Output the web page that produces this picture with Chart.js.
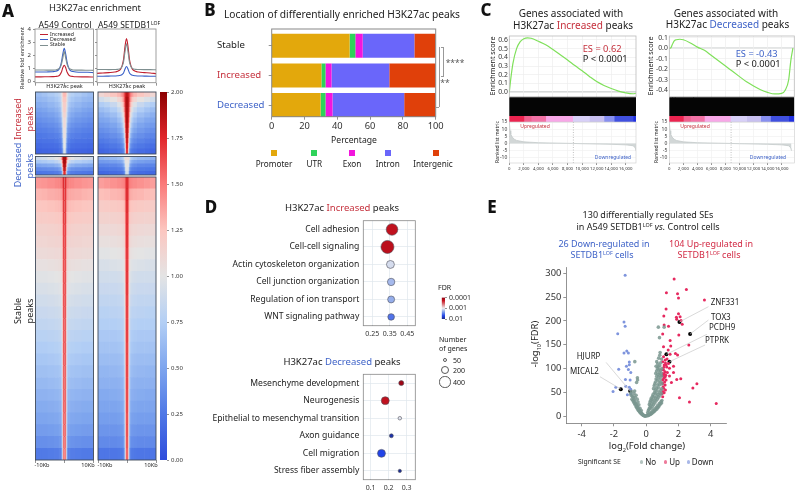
<!DOCTYPE html>
<html>
<head>
<meta charset="utf-8">
<title>H3K27ac figure</title>
<script src="https://cdn.jsdelivr.net/npm/chart.js@4"></script>
<style>
  html, body { margin: 0; padding: 0; background: #fff; }
  #page { position: relative; width: 799px; height: 490px; overflow: hidden; background: #fff; }
  #page canvas { position: absolute; left: 0; top: 0; }
  .t { position: absolute; white-space: nowrap; line-height: 1; color: #222; z-index: 5; }
  .t sup { font-size: .6em; line-height: 0; vertical-align: .55em; }
  .box { position: absolute; z-index: 4; }
</style>
</head>
<body>
<div id="page"></div>
<script>
// ---- panel A, profile lines
const profileKb = [-10, -8, -6, -4, -3, -2, -1.5, -1, -0.5, 0, 0.5, 1, 1.5, 2, 3, 4, 6, 8, 10];
const ctrlStable = [0.88, 0.88, 0.87, 0.87, 0.88, 0.95, 1.05, 1.3, 1.8, 2.3, 1.8, 1.3, 1.05, 0.95, 0.88, 0.87, 0.87, 0.86, 0.85];
const ctrlDecreased = [0.72, 0.72, 0.73, 0.75, 0.78, 0.88, 1.05, 1.45, 2.1, 2.55, 2.1, 1.45, 1.05, 0.85, 0.76, 0.72, 0.7, 0.7, 0.68];
const ctrlIncreased = [0.35, 0.35, 0.36, 0.37, 0.38, 0.42, 0.5, 0.7, 1.05, 1.25, 1.05, 0.7, 0.5, 0.42, 0.38, 0.36, 0.35, 0.35, 0.34];
const lofStable = [0.92, 0.92, 0.91, 0.92, 0.93, 1, 1.15, 1.5, 2.3, 2.9, 2.3, 1.5, 1.15, 1, 0.93, 0.92, 0.91, 0.91, 0.9];
const lofIncreased = [0.62, 0.65, 0.68, 0.72, 0.78, 0.95, 1.2, 1.7, 2.7, 3.3, 2.7, 1.7, 1.2, 0.95, 0.78, 0.72, 0.68, 0.65, 0.6];
const lofDecreased = [0.4, 0.4, 0.41, 0.42, 0.43, 0.47, 0.53, 0.65, 0.95, 1.15, 0.95, 0.65, 0.53, 0.47, 0.43, 0.42, 0.41, 0.4, 0.4];
const profileTicks = [0, 1, 2, 3, 4];
const heatTicks = [0, 0.25, 0.5, 0.75, 1, 1.25, 1.5, 1.75, 2];

// ---- panel A, heatmaps: distance from peak centre (Kb) and one row per band, centre -> outer
const heatBinsKb = [0, 0.5, 0.75, 1, 1.3, 1.7, 2.3, 3.5, 6, 8, 10];
const heatIncCtrl = [
  [1.3, 1.25, 1.1, 0.95, 0.85, 0.8, 0.76, 0.72, 0.68, 0.64],
  [1.25, 1.2, 1.05, 0.9, 0.8, 0.74, 0.7, 0.66, 0.62, 0.6],
  [1.2, 1.15, 1, 0.85, 0.74, 0.68, 0.64, 0.6, 0.56, 0.54],
  [1.2, 1.1, 0.95, 0.8, 0.68, 0.62, 0.58, 0.54, 0.5, 0.48],
  [1.15, 1.05, 0.9, 0.72, 0.62, 0.56, 0.52, 0.48, 0.45, 0.43],
  [1.1, 1, 0.82, 0.64, 0.55, 0.5, 0.46, 0.42, 0.4, 0.38],
  [1.1, 0.98, 0.74, 0.56, 0.48, 0.44, 0.4, 0.37, 0.35, 0.33],
  [1.05, 0.95, 0.66, 0.48, 0.42, 0.38, 0.35, 0.32, 0.3, 0.29],
  [1.05, 0.9, 0.58, 0.42, 0.36, 0.32, 0.3, 0.28, 0.26, 0.25],
  [1, 0.82, 0.48, 0.36, 0.3, 0.27, 0.25, 0.23, 0.22, 0.21],
  [1, 0.72, 0.4, 0.3, 0.25, 0.22, 0.2, 0.19, 0.18, 0.17],
  [0.95, 0.6, 0.32, 0.24, 0.2, 0.18, 0.16, 0.15, 0.14, 0.13]
];
const heatIncLof = [
  [1.85, 1.8, 1.7, 1.55, 1.45, 1.38, 1.3, 1.25, 1.18, 1.12],
  [1.9, 1.85, 1.7, 1.5, 1.35, 1.22, 1.12, 1.02, 0.95, 0.9],
  [1.9, 1.85, 1.65, 1.42, 1.22, 1.08, 0.96, 0.85, 0.78, 0.74],
  [1.9, 1.82, 1.6, 1.32, 1.1, 0.95, 0.84, 0.74, 0.68, 0.64],
  [1.9, 1.8, 1.52, 1.2, 0.98, 0.84, 0.74, 0.65, 0.6, 0.56],
  [1.9, 1.75, 1.42, 1.08, 0.88, 0.74, 0.65, 0.57, 0.52, 0.5],
  [1.88, 1.7, 1.3, 0.98, 0.78, 0.65, 0.57, 0.5, 0.46, 0.44],
  [1.85, 1.62, 1.15, 0.86, 0.68, 0.57, 0.5, 0.44, 0.4, 0.38],
  [1.85, 1.5, 1.02, 0.74, 0.58, 0.48, 0.42, 0.38, 0.34, 0.32],
  [1.8, 1.35, 0.9, 0.62, 0.48, 0.4, 0.35, 0.31, 0.28, 0.26],
  [1.75, 1.2, 0.76, 0.5, 0.38, 0.32, 0.28, 0.25, 0.22, 0.2],
  [1.7, 1.05, 0.6, 0.38, 0.3, 0.25, 0.22, 0.19, 0.17, 0.15]
];
const heatDecCtrl = [
  [1.95, 1.85, 1.6, 1.35, 1.15, 1.05, 1, 0.95, 0.9, 0.88],
  [1.95, 1.8, 1.4, 1.1, 0.95, 0.85, 0.8, 0.75, 0.72, 0.7],
  [1.9, 1.7, 1.15, 0.85, 0.7, 0.62, 0.58, 0.54, 0.52, 0.5],
  [1.85, 1.5, 0.9, 0.62, 0.5, 0.44, 0.4, 0.38, 0.36, 0.35],
  [1.75, 1.25, 0.65, 0.42, 0.34, 0.3, 0.28, 0.26, 0.25, 0.24]
];
const heatDecLof = [
  [1.05, 1.1, 1, 0.85, 0.75, 0.7, 0.66, 0.62, 0.6, 0.58],
  [1, 1.05, 0.9, 0.72, 0.6, 0.54, 0.5, 0.47, 0.45, 0.44],
  [0.98, 0.98, 0.75, 0.55, 0.46, 0.4, 0.37, 0.34, 0.33, 0.32],
  [0.95, 0.9, 0.58, 0.42, 0.34, 0.3, 0.28, 0.26, 0.25, 0.24],
  [0.9, 0.78, 0.42, 0.3, 0.24, 0.21, 0.2, 0.18, 0.17, 0.16]
];
const heatStableCtrl = [
  [1.78, 1.66, 1.52, 1.5, 1.48, 1.46, 1.45, 1.43, 1.41, 1.4],
  [1.76, 1.6, 1.42, 1.38, 1.36, 1.35, 1.34, 1.33, 1.31, 1.3],
  [1.76, 1.56, 1.35, 1.31, 1.29, 1.28, 1.27, 1.26, 1.25, 1.24],
  [1.76, 1.54, 1.3, 1.26, 1.24, 1.23, 1.22, 1.21, 1.2, 1.2],
  [1.74, 1.52, 1.26, 1.21, 1.19, 1.18, 1.17, 1.16, 1.15, 1.15],
  [1.74, 1.5, 1.22, 1.17, 1.15, 1.14, 1.14, 1.13, 1.12, 1.12],
  [1.74, 1.48, 1.19, 1.13, 1.11, 1.1, 1.1, 1.09, 1.08, 1.08],
  [1.72, 1.46, 1.15, 1.09, 1.07, 1.06, 1.05, 1.04, 1.03, 1.03],
  [1.72, 1.44, 1.12, 1.05, 1.02, 1.01, 1, 0.99, 0.98, 0.98],
  [1.72, 1.42, 1.09, 1.01, 0.98, 0.97, 0.96, 0.95, 0.94, 0.94],
  [1.72, 1.41, 1.06, 0.97, 0.94, 0.93, 0.92, 0.91, 0.9, 0.9],
  [1.72, 1.4, 1.03, 0.93, 0.9, 0.89, 0.88, 0.87, 0.86, 0.86],
  [1.7, 1.39, 1, 0.9, 0.86, 0.85, 0.84, 0.83, 0.82, 0.82],
  [1.7, 1.38, 0.98, 0.87, 0.82, 0.81, 0.8, 0.79, 0.78, 0.78],
  [1.7, 1.38, 0.96, 0.83, 0.78, 0.77, 0.76, 0.75, 0.74, 0.74],
  [1.7, 1.36, 0.94, 0.8, 0.74, 0.73, 0.72, 0.71, 0.7, 0.7],
  [1.68, 1.35, 0.91, 0.76, 0.7, 0.69, 0.68, 0.67, 0.66, 0.66],
  [1.68, 1.34, 0.89, 0.73, 0.66, 0.65, 0.64, 0.63, 0.62, 0.62],
  [1.68, 1.33, 0.87, 0.69, 0.62, 0.61, 0.6, 0.59, 0.58, 0.58],
  [1.68, 1.32, 0.85, 0.66, 0.58, 0.57, 0.56, 0.55, 0.54, 0.54],
  [1.66, 1.3, 0.82, 0.62, 0.54, 0.53, 0.52, 0.51, 0.5, 0.5],
  [1.66, 1.28, 0.8, 0.58, 0.49, 0.48, 0.47, 0.46, 0.45, 0.45],
  [1.64, 1.25, 0.76, 0.52, 0.42, 0.41, 0.4, 0.39, 0.38, 0.38],
  [1.6, 1.2, 0.7, 0.4, 0.3, 0.29, 0.28, 0.27, 0.26, 0.26]
];
const heatStableLof = [
  [1.76, 1.64, 1.5, 1.48, 1.46, 1.45, 1.44, 1.42, 1.4, 1.38],
  [1.76, 1.6, 1.4, 1.35, 1.33, 1.32, 1.31, 1.3, 1.28, 1.27],
  [1.76, 1.56, 1.32, 1.27, 1.25, 1.24, 1.23, 1.22, 1.21, 1.2],
  [1.74, 1.54, 1.27, 1.21, 1.19, 1.18, 1.17, 1.16, 1.15, 1.15],
  [1.74, 1.52, 1.22, 1.16, 1.13, 1.12, 1.11, 1.1, 1.09, 1.09],
  [1.74, 1.5, 1.18, 1.11, 1.08, 1.07, 1.06, 1.05, 1.04, 1.04],
  [1.72, 1.48, 1.14, 1.06, 1.03, 1.02, 1.01, 1, 0.99, 0.99],
  [1.72, 1.46, 1.1, 1.02, 0.98, 0.97, 0.96, 0.95, 0.94, 0.94],
  [1.72, 1.44, 1.06, 0.98, 0.94, 0.92, 0.91, 0.9, 0.9, 0.9],
  [1.72, 1.42, 1.03, 0.94, 0.9, 0.88, 0.87, 0.86, 0.86, 0.86],
  [1.7, 1.4, 1.01, 0.91, 0.86, 0.84, 0.83, 0.82, 0.82, 0.82],
  [1.7, 1.38, 0.99, 0.87, 0.82, 0.8, 0.8, 0.79, 0.78, 0.78],
  [1.7, 1.38, 0.97, 0.84, 0.79, 0.77, 0.76, 0.75, 0.75, 0.75],
  [1.7, 1.36, 0.95, 0.81, 0.75, 0.73, 0.72, 0.71, 0.71, 0.71],
  [1.68, 1.35, 0.92, 0.78, 0.72, 0.7, 0.69, 0.68, 0.68, 0.68],
  [1.68, 1.34, 0.9, 0.75, 0.68, 0.66, 0.65, 0.64, 0.64, 0.64],
  [1.68, 1.33, 0.88, 0.72, 0.65, 0.63, 0.62, 0.61, 0.6, 0.6],
  [1.68, 1.32, 0.86, 0.69, 0.61, 0.59, 0.58, 0.57, 0.57, 0.57],
  [1.66, 1.3, 0.84, 0.66, 0.58, 0.56, 0.55, 0.54, 0.53, 0.53],
  [1.66, 1.28, 0.82, 0.62, 0.54, 0.52, 0.51, 0.5, 0.5, 0.5],
  [1.64, 1.26, 0.8, 0.58, 0.5, 0.48, 0.47, 0.46, 0.46, 0.46],
  [1.64, 1.24, 0.76, 0.54, 0.45, 0.43, 0.42, 0.41, 0.41, 0.41],
  [1.62, 1.2, 0.72, 0.48, 0.39, 0.37, 0.36, 0.35, 0.35, 0.35],
  [1.58, 1.15, 0.66, 0.38, 0.28, 0.26, 0.25, 0.24, 0.24, 0.24]
];

// ---- panel B
const locationGroups = ['Stable', 'Increased', 'Decreased'];
const locationTypes = ['Promoter', 'UTR', 'Exon', 'Intron', 'Intergenic'];
const promoterPct = [47.5, 30.3, 29.8];
const utrPct = [3.5, 2.5, 3];
const exonPct = [4.5, 3.7, 4.3];
const intronPct = [31.5, 35.2, 43.7];
const intergenicPct = [13, 28.3, 19.2];
const percentTicks = [0, 20, 40, 60, 80, 100];

// ---- panel C
const esRankInc = [0, 200, 500, 1000, 1500, 2000, 2500, 3000, 4000, 5000, 6000, 7000, 8000, 9000, 10000, 11000, 12000, 13000, 14000, 15000, 16000, 17000, 17400];
const esInc = [0, 0.15, 0.33, 0.5, 0.58, 0.615, 0.625, 0.62, 0.585, 0.545, 0.49, 0.43, 0.37, 0.305, 0.245, 0.18, 0.12, 0.075, 0.04, 0.01, -0.01, -0.02, -0.015];
const esRankDec = [0, 200, 400, 700, 1000, 1500, 2000, 3000, 4000, 5000, 6000, 7000, 8000, 9000, 10000, 11000, 12000, 13000, 14000, 15000, 16000, 16500, 17000, 17300, 17600];
const esDec = [0, 0.002, 0.03, 0.07, 0.08, 0.085, 0.08, 0.05, 0.01, -0.02, -0.07, -0.12, -0.17, -0.22, -0.27, -0.32, -0.36, -0.395, -0.42, -0.435, -0.43, -0.4, -0.3, -0.12, 0];
const esTicksInc = [0, 0.1, 0.2, 0.3, 0.4, 0.5, 0.6];
const esTicksDec = [-0.4, -0.3, -0.2, -0.1, 0, 0.1];
const rankTicks = [0, 2000, 4000, 6000, 8000, 10000, 12000, 14000, 16000];
const metricTicks = [-10, -5, 0, 5, 10, 15];
const metricRank = [0, 100, 200, 400, 700, 1000, 2000, 4000, 8700, 10000, 14000, 16000, 17000, 17300, 17400];
const metricValue = [15, 9, 6.5, 4.5, 3, 2.2, 1.2, 0.6, 0.1, -0.1, -0.5, -0.9, -1.5, -3, -5];
const stripEdges = [0, 2000, 3000, 5000, 8700, 11000, 13000, 14400, 17000];
const stripColors = ['#ec2450', '#f0608e', '#f272a6', '#f8a8e8', '#d8d0f8', '#c8c0f0', '#8890f0', '#4050e0', '#2030e0'];
const barcodeDecHits = [430, 812, 3420];

// ---- panel D
const termsInc = ['Cell adhesion', 'Cell-cell signaling', 'Actin cytoskeleton organization', 'Cell junction organization', 'Regulation of ion transport', 'WNT signaling pathway'];
const ratioInc = [0.363, 0.337, 0.354, 0.358, 0.358, 0.358];
const genesInc = [430, 540, 200, 175, 155, 140];
const fdrInc = [0.00018, 0.00017, 0.0012, 0.0017, 0.0019, 0.0033];
const ratioTicksInc = [0.25, 0.35, 0.45];
const termsDec = ['Mesenchyme development', 'Neurogenesis', 'Epithelial to mesenchymal transition', 'Axon guidance', 'Cell migration', 'Stress fiber assembly'];
const ratioDec = [0.27, 0.181, 0.262, 0.215, 0.16, 0.262];
const genesDec = [80, 200, 40, 50, 200, 35];
const fdrDec = [0.00012, 0.00018, 0.0011, 0.008, 0.005, 0.0095];
const ratioTicksDec = [0.1, 0.2, 0.3];
const fdrTicks = [0.0001, 0.001, 0.01];
const geneLegend = [50, 200, 400];

// ---- panel E, [log2 fold change, -log10 FDR]
const volcanoDown = [[-1.3, 296], [-1.37, 198], [-1.3, 189], [-1.76, 173], [-1.37, 133], [-1.2, 137], [-1.1, 133], [-1.04, 114], [-1.04, 108], [-1.22, 105], [-1.7, 98.6], [-1.1, 98], [-0.95, 92], [-1.28, 77], [-0.99, 76], [-1.88, 61], [-2.05, 52], [-1.26, 63], [-1.04, 61], [-0.95, 56.6], [-1.16, 45], [-0.95, 47]];
const volcanoUp = [[1.74, 288], [2.5, 266], [1.26, 259], [1.95, 257], [2.01, 248], [3.62, 244], [1.24, 225], [2.01, 215], [1.1, 210.5], [1.88, 208], [2.11, 209], [1.9, 203.4], [2.17, 201], [1.12, 191.5], [1.39, 188.7], [2.24, 193], [1.03, 172.6], [2.03, 170.5], [1.49, 159], [1.08, 146], [1.53, 147.5], [2.65, 149.6], [1.37, 139], [1.82, 132], [1.95, 128.6], [1.49, 130], [1.08, 125], [1.18, 118], [1.03, 114.6], [1.39, 111], [1.24, 107.6], [1.7, 105], [1.12, 107.6], [1.28, 103.4], [1.45, 100.6], [1.08, 97], [1.18, 93.6], [1.32, 92], [1.7, 92], [1.03, 85], [1.18, 83], [1.45, 84.5], [1.03, 76], [1.24, 76], [1.9, 77], [2.15, 79], [3.15, 68.5], [2.9, 59.4], [1.57, 71], [1.03, 69], [1.18, 65.7], [1.08, 58.7], [1, 48], [1.12, 49.6], [1.03, 41], [2.07, 39], [2.69, 30], [4.35, 27], [1.05, 90], [1.1, 80], [1.15, 72], [1.06, 62], [1.2, 55], [1.1, 103], [1.2, 112], [1.3, 120], [1.05, 52], [1.14, 88], [1.02, 98], [1.22, 86]];
const volcanoNo = [[-0.95, 48], [-0.9, 52], [-0.92, 44], [-0.85, 42], [-0.88, 36], [-0.8, 40], [-0.82, 33], [-0.78, 30], [-0.75, 35], [-0.72, 27], [-0.7, 32], [-0.68, 24], [-0.65, 28], [-0.62, 20], [-0.6, 25], [-0.58, 18], [-0.55, 21], [-0.52, 15], [-0.5, 18], [-0.48, 12], [-0.45, 14], [-0.42, 10], [-0.4, 12], [-0.38, 8], [-0.35, 9], [-0.32, 6], [-0.3, 7.5], [-0.28, 5], [-0.25, 5], [-0.22, 3], [-0.2, 3.5], [-0.17, 2], [-0.14, 1.5], [-0.1, 1], [-0.07, 0.5], [-0.04, 0.2], [-0.7, 114.6], [-0.54, 81], [-0.59, 71], [-0.53, 76], [-0.71, 53], [-0.75, 48], [-0.62, 44], [-0.68, 40], [-0.55, 36], [-0.5, 30], [-0.45, 24], [-0.38, 17], [-0.3, 12],
  [0.03, 1], [0.06, 2], [0.1, 1], [0.13, 4], [0.16, 2], [0.2, 3], [0.23, 7], [0.26, 4], [0.3, 5], [0.33, 9], [0.36, 6], [0.4, 8], [0.43, 12], [0.46, 9], [0.5, 10], [0.53, 15], [0.56, 12], [0.6, 14], [0.63, 19], [0.66, 15], [0.7, 18], [0.73, 23], [0.76, 19], [0.8, 22], [0.83, 27], [0.86, 24], [0.9, 27], [0.93, 31], [0.96, 28], [0.98, 33],
  [0.1, 8], [0.14, 12], [0.18, 15], [0.22, 18], [0.26, 22], [0.3, 17], [0.34, 26], [0.38, 20], [0.42, 30], [0.46, 24], [0.5, 34], [0.54, 28], [0.58, 38], [0.62, 32], [0.66, 42], [0.7, 36], [0.74, 46], [0.78, 40], [0.82, 50], [0.86, 44], [0.9, 54], [0.94, 48], [0.97, 58],
  [0.2, 25], [0.24, 30], [0.28, 33], [0.32, 38], [0.36, 35], [0.4, 42], [0.44, 46], [0.48, 41], [0.52, 50], [0.56, 55], [0.6, 48], [0.64, 60], [0.68, 54], [0.72, 66], [0.76, 60], [0.8, 72], [0.84, 66], [0.88, 78], [0.92, 72], [0.96, 84], [0.98, 68],
  [0.46, 58], [0.5, 64], [0.54, 68], [0.58, 72], [0.62, 78], [0.66, 84], [0.7, 76], [0.74, 88], [0.78, 82], [0.82, 92], [0.86, 86], [0.9, 96], [0.94, 90], [0.97, 100], [0.6, 90], [0.65, 95], [0.7, 100], [0.75, 104], [0.8, 98], [0.85, 106], [0.9, 112], [0.62, 105], [0.66, 114.6], [0.76, 187], [0.83, 165], [0.87, 134], [0.95, 120], [0.78, 122], [0.85, 128], [0.72, 110], [1.12, 187]];
const volcanoGenes = [[2.07, 198], [2.73, 172.6], [1.26, 130], [1.45, 114.6], [-0.99, 53], [-1.57, 57]];
const volcanoLeaders = [[2.07, 198], [3.87, 230], null, [2.73, 172.6], [3.87, 202], null, [1.26, 130], [3.77, 172], null, [1.45, 114.6], [3.66, 149.6], null, [-0.99, 53], [-2.48, 113], null, [-1.57, 57], [-2.86, 83]];
const foldTicks = [-4, -2, 0, 2, 4];
const fdrAxisTicks = [0, 50, 100, 150, 200, 250, 300];

// ---- colours and helpers
const FONT = '"Noto Sans", sans-serif';
const RED = '#c5303c';
const BLUE = '#3f63c8';
const locationColors = ['#e3a80c', '#2fd35a', '#f215dd', '#6a66fa', '#e0400a'];
const heatStops = [[0, '#2e4cdc'], [0.25, '#4f78e6'], [0.5, '#7ea5ee'], [0.75, '#b3cff5'], [1, '#e4e4e4'], [1.25, '#fcc6c0'], [1.5, '#fa7a7a'], [1.75, '#e1262b'], [2, '#8b0000']];
const fdrStops = [[-4, '#8f0010'], [-3.7, '#c81420'], [-3, '#eeeeee'], [-2.6, '#6f92ea'], [-2.3, '#2244e8'], [-2, '#1a2a8a']];

const page = document.getElementById('page');
Chart.defaults.font.family = FONT;
Chart.defaults.animation = false;
Chart.defaults.responsive = false;
Chart.defaults.plugins.legend.display = false;
Chart.defaults.plugins.tooltip.enabled = false;

Chart.register({
  id: 'frame',
  afterDatasetsDraw(chart, args, opts) {
    if (!opts.color) return;
    const a = chart.chartArea, c = chart.ctx;
    c.save();
    c.strokeStyle = opts.color;
    c.lineWidth = opts.width || 1;
    c.strokeRect(a.left, a.top, a.right - a.left, a.bottom - a.top);
    c.restore();
  }
});

function mixColor(stops, v) {
  if (v <= stops[0][0]) return stops[0][1];
  for (let i = 1; i < stops.length; i++) {
    if (v <= stops[i][0]) {
      const f = (v - stops[i - 1][0]) / (stops[i][0] - stops[i - 1][0]);
      const a = stops[i - 1][1], b = stops[i][1];
      const ch = k => {
        const p = parseInt(a.substr(k, 2), 16), q = parseInt(b.substr(k, 2), 16);
        return Math.round(p + (q - p) * f);
      };
      return 'rgb(' + ch(1) + ',' + ch(3) + ',' + ch(5) + ')';
    }
  }
  return stops[stops.length - 1][1];
}

function axis(min, max, tickVals, o) {
  o = o || {};
  return Object.assign({
    type: 'linear', min: min, max: max,
    afterBuildTicks: s => { s.ticks = tickVals.map(v => ({ value: v })); },
    border: { display: false },
    grid: { display: o.grid !== false || o.tick > 0, drawOnChartArea: o.grid !== false, color: o.gridColor || '#e8e8e8', lineWidth: o.gridWidth || 0.7, tickLength: o.tick === undefined ? 3 : o.tick, tickColor: o.tickColor || '#666', tickWidth: 0.7 },
    ticks: { display: o.labels !== false, autoSkip: false, maxRotation: 0, minRotation: 0, padding: o.pad === undefined ? 2 : o.pad, color: o.color || '#333', font: { size: o.size || 6 }, callback: o.fmt || (v => String(v)) }
  }, o.extra || {});
}

function hidden(extra) {
  return Object.assign({ display: false }, extra || {});
}

// rect is the exact plot rectangle in page pixels; axes take the whole margin up to the canvas edge
function place(rect, config) {
  const cv = document.createElement('canvas');
  cv.width = 799;
  cv.height = 490;
  page.appendChild(cv);
  config.options = config.options || {};
  const sc = config.options.scales;
  Object.keys(sc).forEach(k => {
    const shown = sc[k].display !== false;
    sc[k].afterFit = s => {
      if (s.isHorizontal()) s.height = shown ? 490 - rect[3] : 0;
      else s.width = !shown ? 0 : s.options.position === 'right' ? 799 - rect[2] : rect[0];
    };
  });
  const yOn = sc.y.display !== false, xOn = sc.x.display !== false, yRight = sc.y.position === 'right';
  config.options.layout = { padding: {
    left: yOn && !yRight ? 0 : rect[0],
    right: yOn && yRight ? 0 : 799 - rect[2],
    top: rect[1],
    bottom: xOn ? 0 : 490 - rect[3]
  } };
  return new Chart(cv, config);
}

function T(x, y, html, o) {
  o = o || {};
  const d = document.createElement('div');
  d.className = 't';
  d.innerHTML = html;
  d.style.left = x + 'px';
  d.style.top = y + 'px';
  d.style.fontFamily = FONT;
  d.style.fontSize = (o.size || 9) + 'px';
  if (o.color) d.style.color = o.color;
  if (o.weight) d.style.fontWeight = o.weight;
  const ax = o.align === 'l' ? '0' : o.align === 'r' ? '-100%' : '-50%';
  d.style.transform = 'translate(' + ax + ',-50%)' + (o.rot ? ' rotate(' + o.rot + 'deg)' : '');
  page.appendChild(d);
  return d;
}

function box(x, y, w, h, css) {
  const d = document.createElement('div');
  d.className = 'box';
  d.style.cssText = 'left:' + x + 'px;top:' + y + 'px;width:' + w + 'px;height:' + h + 'px;' + (css || '');
  page.appendChild(d);
}

function pairs(xs, ys) {
  return xs.map((x, i) => ({ x: x, y: ys[i] }));
}

function xy(list) {
  return list.map(p => p ? { x: p[0], y: p[1] } : { x: NaN, y: NaN });
}

// ---- panel A
function profileChart(rect, series, showLabels) {
  place(rect, {
    type: 'scatter',
    data: {
      datasets: series.map(s => ({
        data: pairs(profileKb, s[0]), showLine: true, pointRadius: 0, borderColor: s[1], borderWidth: 1.1, cubicInterpolationMode: 'monotone'
      }))
    },
    options: {
      scales: {
        x: axis(-10, 10, [-10, 0, 10], { grid: false, labels: false, tick: 3 }),
        y: axis(-0.1, 4.04, profileTicks, { grid: false, labels: showLabels, size: 6, pad: 2, tick: 2 })
      },
      plugins: { frame: { color: '#888', width: 0.8 } }
    }
  });
}
profileChart([35, 29, 93.5, 82.7], [[ctrlStable, '#7f8f90'], [ctrlIncreased, '#c02030'], [ctrlDecreased, '#3a60c8']], true);
profileChart([97, 29, 156, 82.7], [[lofStable, '#7f8f90'], [lofIncreased, '#c02030'], [lofDecreased, '#3a60c8']], false);

function heatChart(rect, rows, bottomTicks) {
  const datasets = [];
  // outer bins first so the centre bins stay on top of their neighbours
  for (let c = heatBinsKb.length - 2; c >= 0; c--) {
    const colors = rows.map(r => mixColor(heatStops, r[c]));
    const common = { backgroundColor: colors, borderWidth: 0, inflateAmount: 0.3, barPercentage: 1, categoryPercentage: 1 };
    datasets.push(Object.assign({ data: rows.map(() => [heatBinsKb[c], heatBinsKb[c + 1]]) }, common));
    datasets.push(Object.assign({ data: rows.map(() => [-heatBinsKb[c + 1], -heatBinsKb[c]]) }, common));
  }
  place(rect, {
    type: 'bar',
    data: { labels: rows.map((r, i) => i), datasets: datasets },
    options: {
      indexAxis: 'y',
      grouped: false,
      scales: {
        x: bottomTicks ? axis(-10, 10, [-10, 0, 10], { grid: false, labels: false, tick: 3 }) : hidden({ type: 'linear', min: -10, max: 10 }),
        y: hidden({ type: 'category' })
      },
      plugins: { frame: { color: '#3f4a5a', width: 0.9 } }
    }
  });
}
heatChart([35.5, 92, 93.5, 154], heatIncCtrl);
heatChart([98, 92, 156, 154], heatIncLof);
heatChart([35.5, 156.5, 93.5, 175], heatDecCtrl);
heatChart([98, 156.5, 156, 175], heatDecLof);
heatChart([35.5, 177, 93.5, 460], heatStableCtrl, true);
heatChart([98, 177, 156, 460], heatStableLof, true);

function colorBar(rect, min, max, stops, tickVals, fmt, size, reverse) {
  place(rect, {
    type: 'bar',
    data: {
      labels: [''],
      datasets: [{
        data: [[min, max]], barPercentage: 1, categoryPercentage: 1, borderWidth: 0,
        backgroundColor: ctx => {
          const s = ctx.chart.scales.y;
          if (!s || !ctx.chart.chartArea) return '#888';
          const g = ctx.chart.ctx.createLinearGradient(0, s.getPixelForValue(min), 0, s.getPixelForValue(max));
          stops.forEach(p => g.addColorStop((p[0] - min) / (max - min), p[1]));
          return g;
        }
      }]
    },
    options: {
      scales: {
        x: hidden({ type: 'category' }),
        y: axis(min, max, tickVals, { grid: false, tick: 2, size: size, pad: 2, fmt: fmt, extra: { position: 'right', reverse: !!reverse } })
      }
    }
  });
}
colorBar([160, 92, 167, 460], 0, 2, heatStops, heatTicks, v => v.toFixed(2), 6);

// ---- panel B: the bars on their own rows, then frame and axes above them
place([271.7, 30.85, 435.7, 119.95], {
  type: 'bar',
  data: {
    labels: locationGroups,
    datasets: [promoterPct, utrPct, exonPct, intronPct, intergenicPct].map((vals, i) => ({
      label: locationTypes[i], data: vals, backgroundColor: locationColors[i], borderWidth: 0, barPercentage: 0.808, categoryPercentage: 1
    }))
  },
  options: {
    indexAxis: 'y',
    scales: {
      x: hidden({ type: 'linear', min: 0, max: 100, stacked: true }),
      y: hidden({ type: 'category', stacked: true })
    }
  }
});
place([271.7, 29, 435.7, 116.7], {
  type: 'scatter',
  data: { datasets: [] },
  options: {
    scales: {
      x: axis(0, 100, percentTicks, { grid: false, size: 9.3, tick: 3, pad: 1 }),
      y: axis(-0.562, 2.394, [0, 1, 2], { grid: false, labels: false, tick: 3, extra: { reverse: true } })
    },
    plugins: { frame: { color: '#888', width: 1 } }
  }
});

// ---- panel C
function gseaPanel(x0, x1, xMax, rank, es, yMin, yMax, esTicks, hits) {
  // zero line of the score, under the curve
  place([x0, 36, x1, 96.7], {
    type: 'scatter',
    data: { datasets: [{ data: [{ x: 0, y: 0 }, { x: xMax, y: 0 }], showLine: true, pointRadius: 0, borderColor: '#c8cccc', borderWidth: 1.3 }] },
    options: { scales: { x: hidden({ type: 'linear', min: 0, max: xMax }), y: hidden({ type: 'linear', min: yMin, max: yMax }) } }
  });

  // running enrichment score
  place([x0, 36, x1, 96.7], {
    type: 'scatter',
    data: { datasets: [{ data: pairs(rank, es), showLine: true, pointRadius: 0, borderColor: '#7fe05a', borderWidth: 1.2, cubicInterpolationMode: 'monotone' }] },
    options: {
      scales: {
        x: axis(0, xMax, rankTicks, { labels: false, tick: 0, gridColor: '#eeeeee' }),
        y: axis(yMin, yMax, esTicks, { size: 6.8, pad: 1.5, tick: 0, gridColor: '#eeeeee', fmt: v => v.toFixed(1) })
      },
      plugins: { frame: { color: '#bbb', width: 0.8 } }
    }
  });

  // hit barcode
  const barcode = [{ data: [[0, xMax]], backgroundColor: '#050505' }].concat(hits.map(h => ({ data: [[h, h + 70]], backgroundColor: '#8a8a8a' })));
  place([x0, 97.3, x1, 116], {
    type: 'bar',
    data: { labels: [''], datasets: barcode.map(d => Object.assign({ barPercentage: 1, categoryPercentage: 1, borderWidth: 0 }, d)) },
    options: { indexAxis: 'y', grouped: false, scales: { x: hidden({ type: 'linear', min: 0, max: xMax }), y: hidden({ type: 'category' }) } }
  });

  // ranked list colour strip
  place([x0, 116, x1, 122], {
    type: 'bar',
    data: {
      labels: [''],
      datasets: stripColors.map((col, i) => ({
        data: [[stripEdges[i], i + 1 < stripEdges.length ? stripEdges[i + 1] : xMax]], backgroundColor: col, barPercentage: 1, categoryPercentage: 1, borderWidth: 0
      }))
    },
    options: { indexAxis: 'y', grouped: false, scales: { x: hidden({ type: 'linear', min: 0, max: xMax }), y: hidden({ type: 'category' }) } }
  });

  // ranked list metric
  place([x0, 122, x1, 163], {
    type: 'scatter',
    data: {
      datasets: [
        { data: pairs(metricRank, metricValue), showLine: true, pointRadius: 0, borderColor: '#c4caca', borderWidth: 0.8, backgroundColor: '#d2d7d7', fill: 'origin' },
        { data: [{ x: 8800, y: 15 }, { x: 8800, y: -13.5 }], showLine: true, pointRadius: 0, borderColor: '#999', borderWidth: 0.6, borderDash: [1, 1.5] }
      ]
    },
    options: {
      scales: {
        x: axis(0, xMax, rankTicks, { size: 4.3, tick: 2, pad: 1, gridColor: '#f0f0f0', fmt: v => v.toLocaleString('en-US') }),
        y: axis(-13.5, 15, metricTicks, { size: 5, tick: 0, pad: 2, gridColor: '#f0f0f0' })
      },
      plugins: { frame: { color: '#ccc', width: 0.6 } }
    }
  });
}
gseaPanel(509.3, 636, 17400, esRankInc, esInc, -0.054, 0.646, esTicksInc, []);
gseaPanel(669.3, 794.3, 17800, esRankDec, esDec, -0.461, 0.116, esTicksDec, barcodeDecHits);

// ---- panel D
function geneRadius(n) {
  return 0.28 * Math.sqrt(n);
}
function fdrColor(f) {
  return mixColor(fdrStops, Math.log10(f));
}
function dotChart(rect, terms, ratio, genes, fdr, xMin, xMax, xTicks) {
  place(rect, {
    type: 'bubble',
    data: {
      labels: terms,
      datasets: [{
        data: terms.map((t, i) => ({ x: ratio[i], y: t, r: geneRadius(genes[i]) })),
        backgroundColor: fdr.map(fdrColor), borderColor: '#50505a', borderWidth: 0.6
      }]
    },
    options: {
      scales: {
        x: axis(xMin, xMax, xTicks, { size: 7, tick: 0, pad: 4, gridColor: '#dfe6ec', fmt: v => String(v) }),
        y: {
          type: 'category', labels: terms, offset: true, border: { display: false },
          grid: { color: '#dfe6ec', lineWidth: 0.7, tickLength: 0, offset: false },
          ticks: { autoSkip: false, padding: 4, color: '#222', font: { size: 8.6 } }
        }
      },
      plugins: { frame: { color: '#888', width: 0.8 } }
    }
  });
}
dotChart([363.3, 220.7, 415.3, 325.7], termsInc, ratioInc, genesInc, fdrInc, 0.199, 0.496, ratioTicksInc);
dotChart([363.3, 374.3, 415.3, 479.7], termsDec, ratioDec, genesDec, fdrDec, 0.059, 0.348, ratioTicksDec);
colorBar([441.7, 297.5, 445, 319], -4, -2, fdrStops, fdrTicks.map(Math.log10), v => String(Math.pow(10, v).toFixed(Math.round(-v))), 7, true);

// ---- panel E
place([566.3, 267.3, 726.7, 423.3], {
  type: 'scatter',
  data: {
    datasets: [
      { data: xy(volcanoLeaders), showLine: true, pointRadius: 0, borderColor: '#c8c8c8', borderWidth: 0.7, spanGaps: false },
      { data: xy(volcanoNo), pointRadius: 1.8, backgroundColor: 'rgba(122,150,143,0.85)', borderWidth: 0 },
      { data: xy(volcanoDown), pointRadius: 1.5, backgroundColor: '#7f95dd', borderWidth: 0 },
      { data: xy(volcanoUp), pointRadius: 1.5, backgroundColor: '#e6295f', borderWidth: 0 },
      { data: xy(volcanoGenes), pointRadius: 2, backgroundColor: '#000', borderWidth: 0 }
    ]
  },
  options: {
    scales: {
      x: axis(-4.95, 5, foldTicks, { grid: false, size: 9.3, tick: 3, pad: 2, extra: { border: { display: true, color: '#777', width: 0.8 } } }),
      y: axis(-14.7, 312.6, fdrAxisTicks, { grid: false, size: 9.3, tick: 3, pad: 2, extra: { border: { display: true, color: '#777', width: 0.8 } } })
    }
  }
});

// ---- text, panel letters
[['A', 8, 10], ['B', 210, 9], ['C', 486, 9], ['D', 211, 206], ['E', 492, 206]].forEach(p => {
  T(p[1], p[2], p[0], { size: 17, weight: 800, color: '#111' });
});

// panel A text
const lof = 'SETDB1<sup>LOF</sup>';
T(95, 7.5, 'H3K27ac enrichment', { size: 9.4 });
T(65, 24.5, 'A549 Control', { size: 8.7 });
T(129, 24.5, 'A549 ' + lof, { size: 8.5 });
T(23, 58, 'Relative fold enrichment', { size: 5.4, rot: -90 });
[['Increased', 34.5, '#c02030'], ['Decreased', 39.8, '#3a60c8'], ['Stable', 45, '#7f8f90']].forEach(p => {
  box(39.5, p[1] - 0.5, 8, 1, 'background:' + p[2]);
  T(50, p[1], p[0], { size: 5.2, align: 'l' });
});
T(64.5, 87, 'H3K27ac peak', { size: 5.5 });
T(127, 87, 'H3K27ac peak', { size: 5.5 });
T(17, 119, 'Increased', { size: 9, color: RED, rot: -90 });
T(28.5, 119, 'peaks', { size: 9, color: RED, rot: -90 });
T(17, 165, 'Decreased', { size: 9, color: BLUE, rot: -90 });
T(28.5, 166, 'peaks', { size: 9, color: BLUE, rot: -90 });
T(17, 311, 'Stable', { size: 9, rot: -90 });
T(28.5, 311, 'peaks', { size: 9, rot: -90 });
T(42, 465.5, '-10Kb', { size: 5.6 });
T(88, 465.5, '10Kb', { size: 5.6 });
T(105, 465.5, '-10Kb', { size: 5.6 });
T(151, 465.5, '10Kb', { size: 5.6 });

// panel B text
T(342, 14, 'Location of differentially enriched H3K27ac peaks', { size: 10.2 });
T(217, 45, locationGroups[0], { size: 9.6, align: 'l' });
T(217, 75, locationGroups[1], { size: 9.6, align: 'l', color: RED });
T(217, 105, locationGroups[2], { size: 9.6, align: 'l', color: BLUE });
T(354, 140, 'Percentage', { size: 8.6 });
const swatchX = [274, 314, 352, 388, 435.7];
const labelX = [274, 314.3, 352, 387.7, 433];
locationTypes.forEach((name, i) => {
  box(swatchX[i] - 3.2, 149.8, 6.5, 6.5, 'background:' + locationColors[i]);
  T(labelX[i], 163.5, name, { size: 8.2 });
});
box(443.3, 47, 0.8, 29, 'background:#999');
box(441, 47, 2.5, 0.8, 'background:#999');
box(441, 76, 2.5, 0.8, 'background:#999');
box(438.7, 47, 0.8, 60, 'background:#999');
box(436, 107, 3, 0.8, 'background:#999');
T(455, 63, '****', { size: 8.5, color: '#555' });
T(445, 83, '**', { size: 8.5, color: '#555' });

// panel C text
T(571, 13, 'Genes associated with', { size: 10 });
T(573, 25, 'H3K27ac <span style="color:' + RED + '">Increased</span> peaks', { size: 10 });
T(726, 12.5, 'Genes associated with', { size: 10 });
T(727.5, 24, 'H3K27ac <span style="color:' + BLUE + '">Decreased</span> peaks', { size: 10 });
T(582.7, 49, 'ES = 0.62', { size: 9.3, align: 'l', color: RED });
T(582.7, 59, 'P &lt; 0.0001', { size: 9.3, align: 'l' });
T(735.7, 54, 'ES = -0.43', { size: 9.3, align: 'l', color: BLUE });
T(735.7, 64, 'P &lt; 0.0001', { size: 9.3, align: 'l' });
T(493, 66, 'Enrichment score', { size: 7.2, rot: -90 });
T(650.7, 66, 'Enrichment score', { size: 7.2, rot: -90 });
T(497, 142, 'Ranked list metric', { size: 5, rot: -90 });
T(656, 142, 'Ranked list metric', { size: 5, rot: -90 });
T(535, 125.5, 'Upregulated', { size: 5, color: RED });
T(695, 125.5, 'Upregulated', { size: 5, color: RED });
T(613, 156.5, 'Downregulated', { size: 5, color: BLUE });
T(768, 157, 'Downregulated', { size: 5, color: BLUE });

// panel D text
T(342, 208, 'H3K27ac <span style="color:' + RED + '">Increased</span> peaks', { size: 9.5 });
T(342, 362, 'H3K27ac <span style="color:' + BLUE + '">Decreased</span> peaks', { size: 9.5 });
T(438, 287, 'FDR', { size: 7, align: 'l' });
T(439, 339, 'Number', { size: 7, align: 'l' });
T(439, 348, 'of genes', { size: 7, align: 'l' });
const legendY = [360.3, 370, 382];
geneLegend.forEach((n, i) => {
  const r = geneRadius(n);
  box(445 - r, legendY[i] - r, 2 * r, 2 * r, 'box-sizing:border-box;border:.7px solid #555;border-radius:50%;background:#fff');
  T(453, legendY[i], String(n), { size: 7, align: 'l' });
});

// panel E text
T(648, 214, '130 differentially regulated SEs', { size: 9 });
T(648, 225.5, 'in A549 ' + lof + ' <i>vs.</i> Control cells', { size: 9 });
T(604, 242.5, '26 Down-regulated in', { size: 9, color: BLUE });
T(602, 254, lof + ' cells', { size: 9, color: BLUE });
T(711, 242.5, '104 Up-regulated in', { size: 9, color: '#d22b45' });
T(709, 254, lof + ' cells', { size: 9, color: '#d22b45' });
T(710.7, 301.7, 'ZNF331', { size: 8, align: 'l' });
T(711, 316.7, 'TOX3', { size: 8, align: 'l' });
T(709, 326.5, 'PCDH9', { size: 8, align: 'l' });
T(705, 340, 'PTPRK', { size: 8, align: 'l' });
T(576.7, 356, 'HJURP', { size: 8, align: 'l' });
T(570, 371, 'MICAL2', { size: 8, align: 'l' });
T(647, 446, 'log<sub style="font-size:.6em;line-height:0">2</sub>(Fold change)', { size: 9.4 });
T(535, 344, '-log<sub style="font-size:.6em;line-height:0">10</sub>(FDR)', { size: 9.4, rot: -90 });
T(578, 462, 'Significant SE', { size: 6.8, align: 'l' });
[['No', 641.7, '#b4c4c0'], ['Up', 665.7, '#ee7c9c'], ['Down', 688.3, '#a9b8e8']].forEach(p => {
  box(p[1] - 1.8, 460.2, 3.6, 3.6, 'border-radius:50%;background:' + p[2]);
  T(p[1] + 3.5, 462, p[0], { size: 8, align: 'l' });
});
</script>
</body>
</html>
